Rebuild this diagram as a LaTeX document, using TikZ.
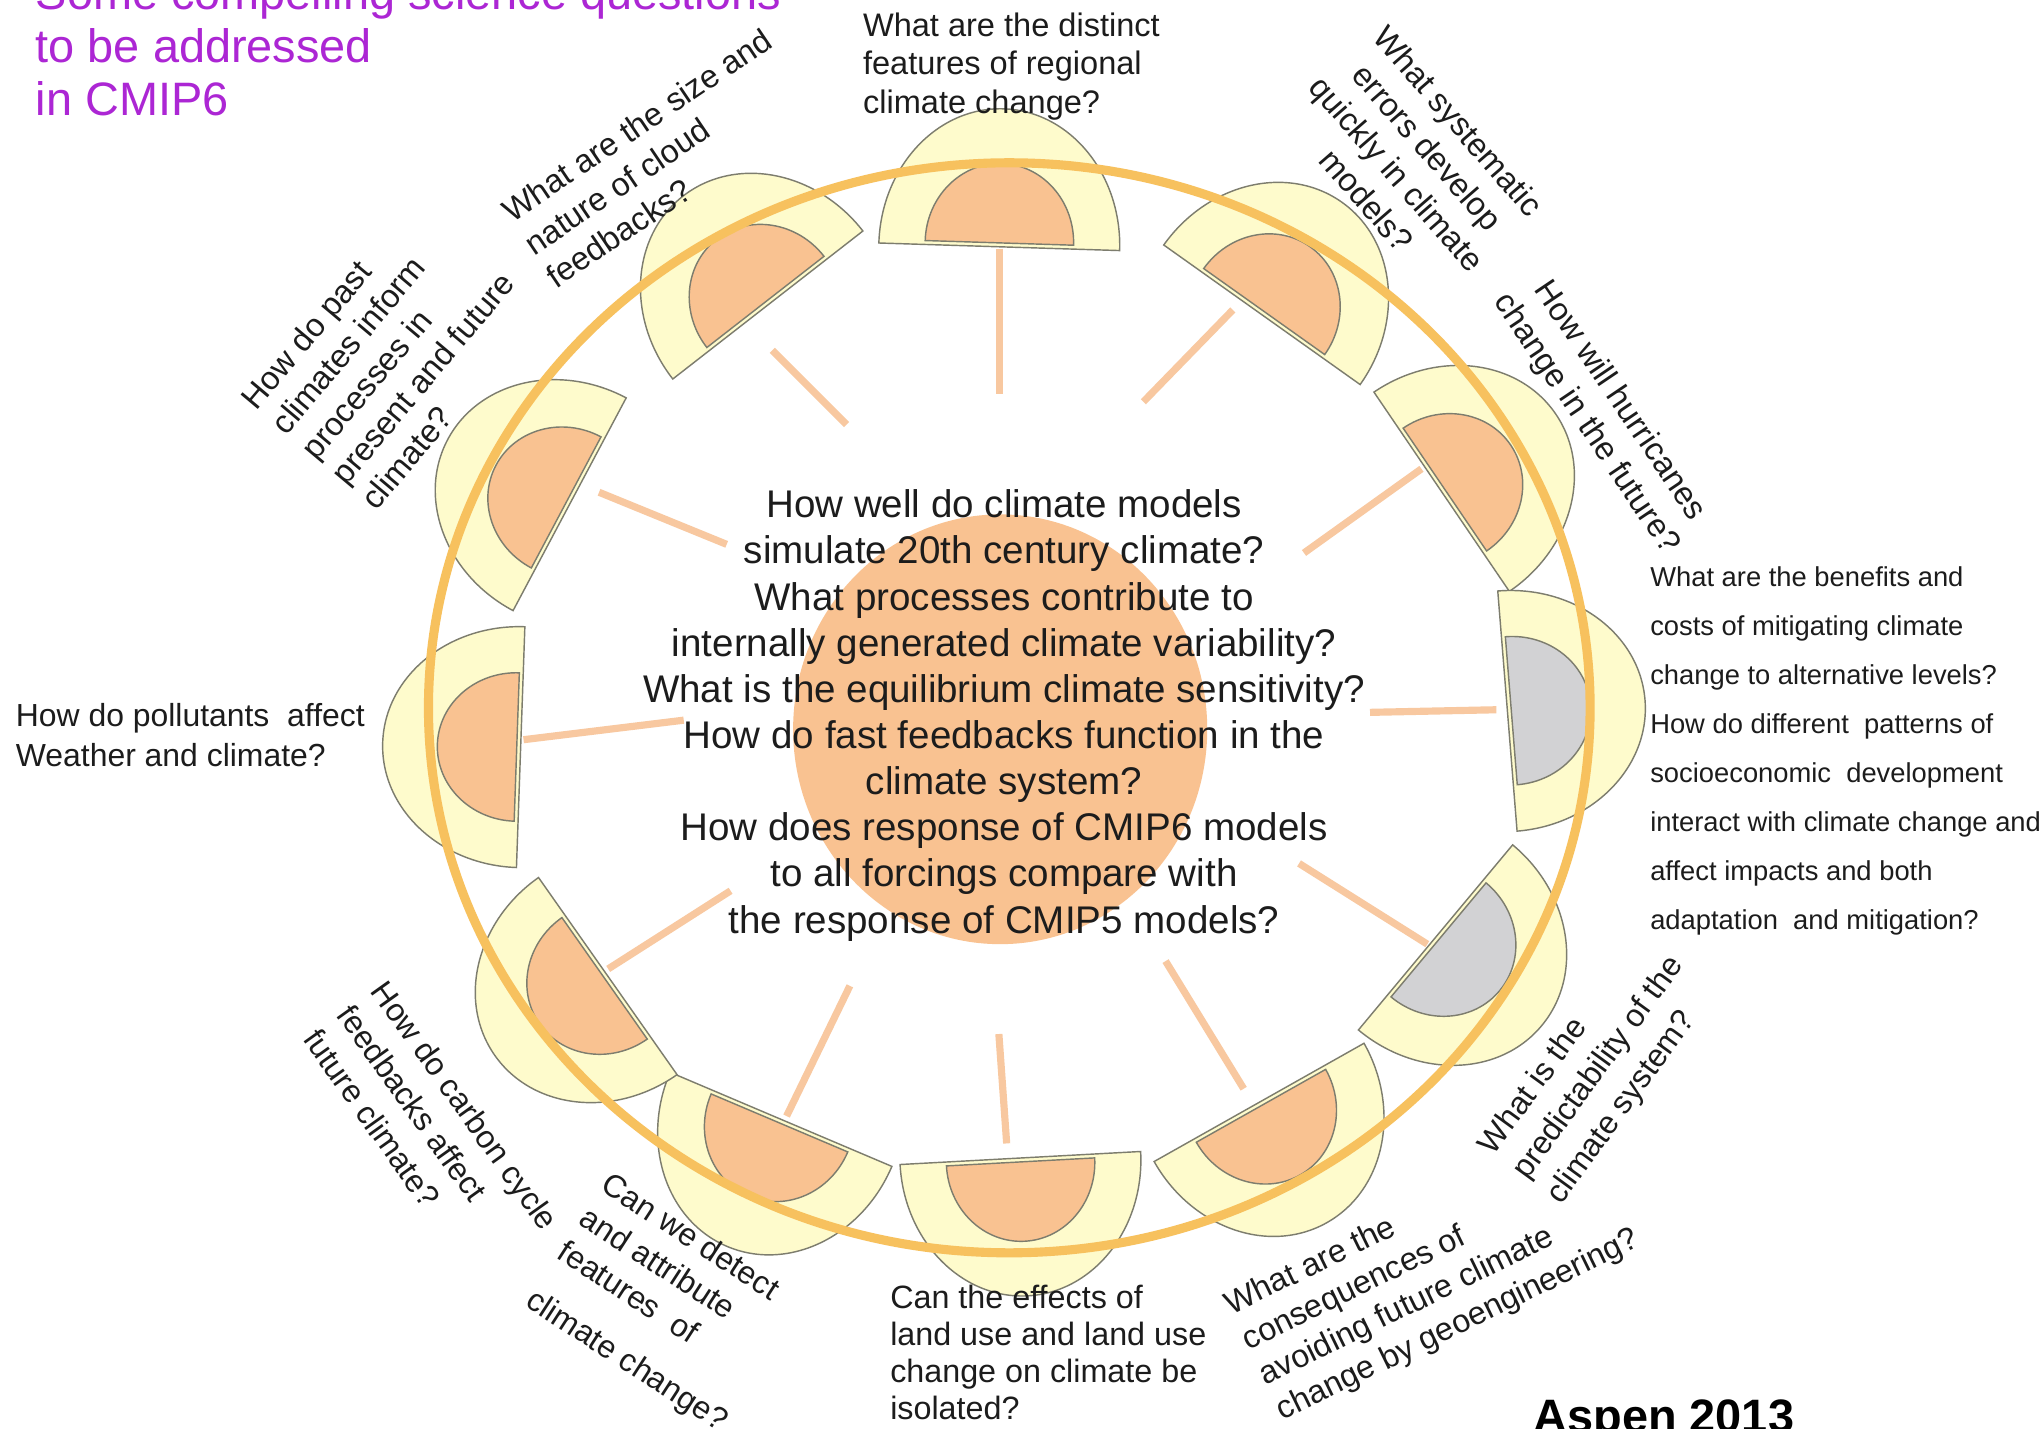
\documentclass[tikz,border=0pt]{standalone}
\usepackage{fontspec}
\setmainfont{Liberation Sans}
\definecolor{ringc}{RGB}{247,193,94}
\definecolor{peach}{RGB}{249,194,145}
\definecolor{spokec}{RGB}{248,200,160}
\definecolor{pale}{RGB}{254,251,204}
\definecolor{edgec}{RGB}{125,125,110}
\definecolor{greyin}{RGB}{210,210,212}
\definecolor{titlec}{RGB}{172,38,212}
\definecolor{txt}{RGB}{28,28,28}
\tikzset{
  secouter/.style={fill=pale,draw=edgec,line width=1.1pt},
  secinner/.style={draw=edgec,line width=1.1pt},
  spoke/.style={draw=spokec,line width=5.5pt},
  lab/.style={inner sep=0pt,text=txt},
}
\newcommand\mysector[4]{%
  \begin{scope}[shift={(#1,-#2)},rotate=#3]
    \filldraw[secouter] (0,-92.5) arc[start angle=-90,end angle=90,x radius=106,y radius=92.5] -- cycle;
    \filldraw[secinner,fill=#4] (3,-57) arc[start angle=-90,end angle=90,x radius=61,y radius=57] -- cycle;
  \end{scope}}
\begin{document}
\begin{tikzpicture}[x=1pt,y=1pt]
\useasboundingbox (0,0) rectangle (1568,-1097);
\fill[white] (0,0) rectangle (1568,-1097);

% sectors
\mysector{767.3}{189.5}{88.2}{peach}
\mysector{969}{241.7}{54.6}{peach}
\mysector{1107}{377.6}{34.2}{peach}
\mysector{1157.5}{546}{4.6}{greyin}
\mysector{1102.3}{719.8}{-39.8}{greyin}
\mysector{966.8}{846.5}{-60.6}{peach}
\mysector{783.5}{889.2}{-86.9}{peach}
\mysector{599.7}{859.5}{-113}{peach}
\mysector{466.7}{749.5}{-144.9}{peach}
\mysector{399.8}{573.7}{178}{peach}
\mysector{437.4}{387.2}{152}{peach}
\mysector{589.6}{234.2}{127.9}{peach}

% spokes
\draw[spoke] (767.5,-191) -- (767.5,-302.7);
\draw[spoke] (878,-308.5) -- (946.6,-238);
\draw[spoke] (1001.3,-424.6) -- (1091.5,-360);
\draw[spoke] (1052,-547) -- (1149,-545);
\draw[spoke] (997.5,-663) -- (1096,-725);
\draw[spoke] (895,-738) -- (955,-836);
\draw[spoke] (767,-794) -- (773,-878);
\draw[spoke] (652.6,-757) -- (604,-857);
\draw[spoke] (561,-684) -- (467,-744);
\draw[spoke] (402,-568) -- (525,-553);
\draw[spoke] (460,-378) -- (558,-418);
\draw[spoke] (593,-269) -- (650,-326);

% centre disc
\fill[peach] (768,-560) ellipse [x radius=159, y radius=165];

% ring
\draw[ringc,line width=7pt] (775,-543.5) ellipse [x radius=446, y radius=418.5];

% centre text
\node[lab,anchor=base,font=\fontsize{29.6}{35.43}\selectfont] (centre) at (771,-397.6) {\begin{tabular}[t]{@{}c@{}}
How well do climate models\\
simulate 20th century climate?\\
What processes contribute to\\
internally generated climate variability?\\
What is the equilibrium climate sensitivity?\\
How do fast feedbacks function in the\\
climate system?\\
How does response of CMIP6 models\\
to all forcings compare with\\
the response of CMIP5 models?\end{tabular}};

% title
\node[inner sep=0pt,anchor=base west,text=titlec,font=\fontsize{36}{41}\selectfont] (title) at (27.3,-7) {\begin{tabular}[t]{@{}l@{}}Some compelling science questions\\to be addressed\\in CMIP6\end{tabular}};

% straight labels
\node[lab,anchor=base west,font=\fontsize{25}{29.4}\selectfont] (regional) at (662.5,-28) {\begin{tabular}[t]{@{}l@{}}What are the distinct\\features of regional\\climate change?\end{tabular}};

\node[lab,anchor=base west,font=\fontsize{21}{37.7}\selectfont] (benefits) at (1267,-450) {\begin{tabular}[t]{@{}l@{}}What are the benefits and\\costs of mitigating climate\\change to alternative levels?\\How do different\ \ patterns of\\socioeconomic\ \ development\\interact with climate change and\\affect impacts and both\\adaptation\ \ and mitigation?\end{tabular}};

\node[lab,anchor=base west,font=\fontsize{24.5}{30.7}\selectfont] (pollutants) at (12,-558) {\begin{tabular}[t]{@{}l@{}}How do pollutants\ \ affect\\Weather and climate?\end{tabular}};

\node[lab,anchor=base west,font=\fontsize{24.8}{28.6}\selectfont] (landuse) at (683.4,-1004.5) {\begin{tabular}[t]{@{}l@{}}Can the effects of\\land use and land use\\change on climate be\\isolated?\end{tabular}};

% rotated labels
\node[lab,anchor=base west,rotate=34,font=\fontsize{25}{30.5}\selectfont] (cloud) at (393,-171.5) {\begin{tabular}[t]{@{}l@{}}What are the size and\\nature of cloud\\feedbacks?\end{tabular}};

\node[lab,anchor=base west,rotate=50,font=\fontsize{25}{30}\selectfont] (past) at (197,-316) {\begin{tabular}[t]{@{}l@{}}How do past\\climates inform\\processes in\\present and future\\climate?\end{tabular}};

\node[lab,anchor=base,rotate=-49,font=\fontsize{25}{31}\selectfont] (systematic) at (1113,-98.5) {\begin{tabular}[t]{@{}c@{}}What systematic\\errors develop\\quickly in climate\\models?\end{tabular}};

\node[lab,anchor=base,rotate=-56,font=\fontsize{25}{31}\selectfont] (hurricanes) at (1238,-311.6) {\begin{tabular}[t]{@{}c@{}}How will hurricanes\\change in the future?\end{tabular}};

\node[lab,anchor=base west,rotate=54,font=\fontsize{24.5}{32}\selectfont] (predict) at (1147,-888) {\begin{tabular}[t]{@{}l@{}}What is the\\predictability of the\\climate system?\end{tabular}};

\node[lab,anchor=base west,rotate=26,font=\fontsize{24.8}{30}\selectfont] (geo) at (945.4,-1010) {\begin{tabular}[t]{@{}l@{}}What are the\\consequences of\\avoiding future climate\\change by geoengineering?\end{tabular}};

\node[lab,anchor=base west,rotate=-33,font=\fontsize{24.5}{31}\selectfont] (detect) at (460.3,-913.6) {\begin{tabular}[t]{@{}l@{}}Can we detect\\and attribute\\features\ \ of\\[13pt]climate change?\end{tabular}};

\node[lab,anchor=base west,rotate=-54.5,font=\fontsize{24.5}{32}\selectfont] (carbon) at (283.9,-761) {\begin{tabular}[t]{@{}l@{}}How do carbon cycle\\feedbacks affect\\future climate?\end{tabular}};

% footer
\node[inner sep=0pt,anchor=base west,text=black,font=\bfseries\fontsize{36}{40}\selectfont] (aspen) at (1177.4,-1100) {Aspen 2013};
\end{tikzpicture}
\end{document}
